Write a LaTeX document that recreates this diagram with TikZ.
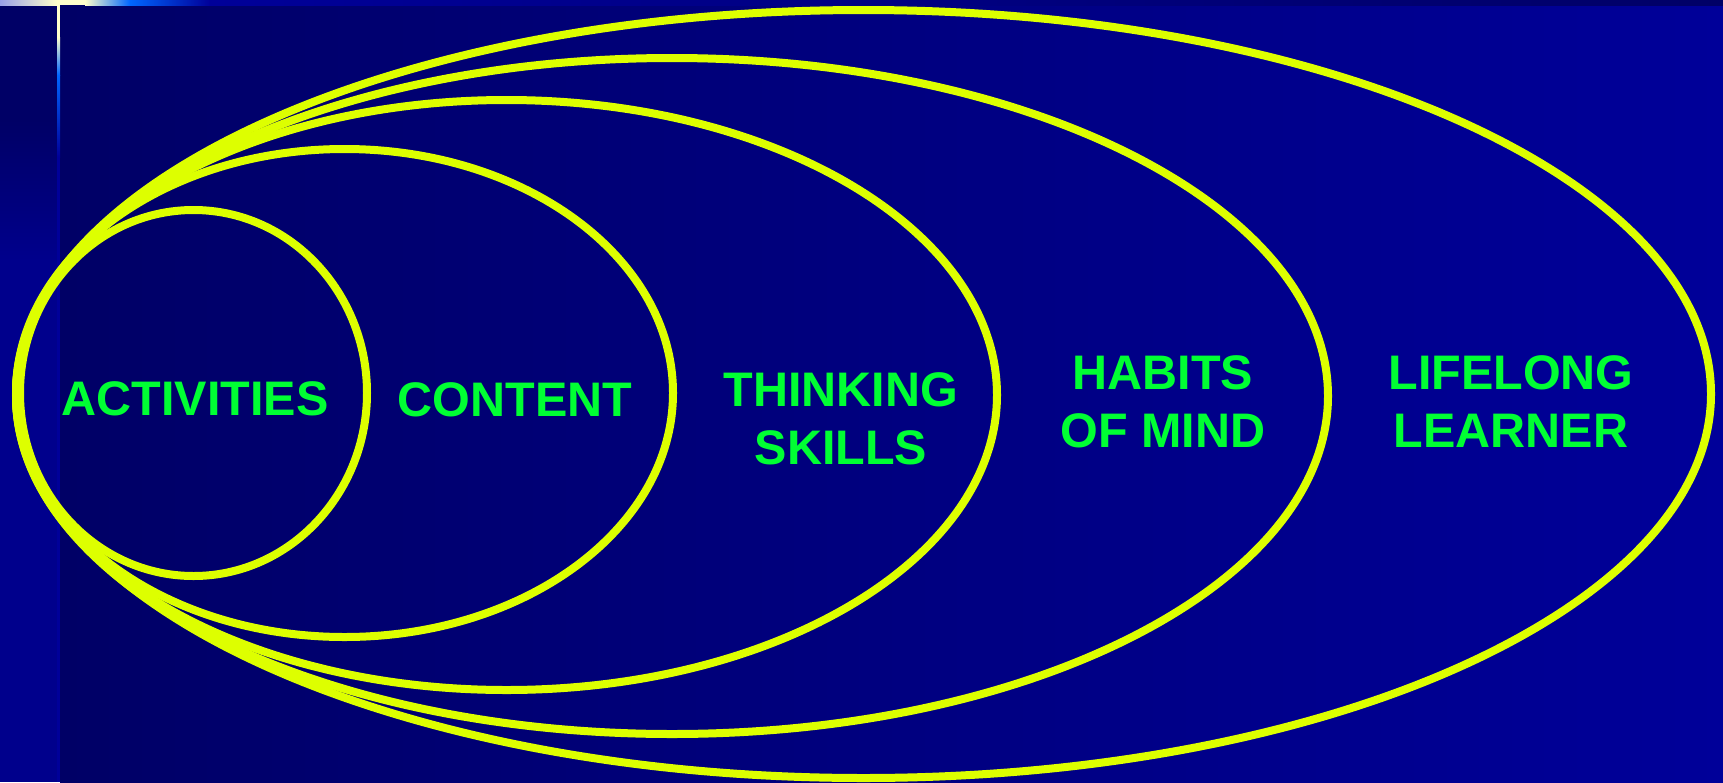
\documentclass[tikz,border=0pt]{standalone}
\usepackage{fontspec}
\setmainfont{Liberation Sans}
\usepackage{xcolor}
\usetikzlibrary{positioning}
\definecolor{navydark}{HTML}{000066}
\definecolor{navyright}{HTML}{000099}
\definecolor{stripblue}{HTML}{00008C}
\definecolor{ringyellow}{HTML}{DDFF00}
\definecolor{labelgreen}{HTML}{00FF33}
\definecolor{barcream}{HTML}{FFFFCC}
\definecolor{barblue}{HTML}{0066FF}
\definecolor{barlilac}{HTML}{99A0E8}
\tikzset{
  ring/.style={draw=ringyellow, line width=8pt},
  ringlabel/.style={text=labelgreen, font=\fontsize{48.5}{58}\selectfont\bfseries, align=center, inner sep=0pt}
}

\begin{document}
\begin{tikzpicture}[x=1pt, y=-1pt]
        % Background with the slide bars
        \useasboundingbox (0,0) rectangle (1723,782);
        \shade[left color=navydark, right color=navyright] (60,0) rectangle (1723,782);
        \fill[navydark] (0,0) rectangle (60,782);
        \shade[top color=navydark, bottom color=stripblue] (0,120) rectangle (57,260);
        \fill[stripblue] (0,260) rectangle (57,782);
        
        \fill[barcream] (57,0) rectangle (60,37);
        \shade[top color=barcream, bottom color=barblue] (57,37) rectangle (60,75);
        \shade[top color=barblue, bottom color=navyright] (57,75) rectangle (60,157);
        \fill[navyright] (57,157) rectangle (60,782);
        
        \shade[left color=barlilac, right color=barcream] (0,0) rectangle (57,5);
        \fill[barcream] (57,0) rectangle (85,5);
        \shade[left color=barcream, right color=barblue] (85,0) rectangle (130,5);
        \shade[left color=barblue, right color=navyright] (130,0) rectangle (210,5);
        \shade[left color=navyright, right color=navydark] (210,0) rectangle (1723,5);
        
        % Nested rings, all touching at the left
        \draw[ring] (193.5,393) ellipse [x radius=173.5, y radius=183];
        \draw[ring] (344.5,393) ellipse [x radius=328.5, y radius=244];
        \draw[ring] (506.5,395) ellipse [x radius=490.5, y radius=295];
        \draw[ring] (672,396) ellipse [x radius=656, y radius=338];
        \draw[ring] (863.5,394) ellipse [x radius=847.5, y radius=384];
        
        % Labels
        \node[ringlabel] (activities) at (195,399) {ACTIVITIES};
        \node[ringlabel] (content) at (515,400) {CONTENT};
        \node[ringlabel] (thinking) at (841,419) {THINKING\\SKILLS};
        \node[ringlabel] (habits) at (1163,402) {HABITS\\OF MIND};
        \node[ringlabel] (lifelong) at (1511,402) {LIFELONG\\LEARNER};
    \end{tikzpicture}
\end{document}
